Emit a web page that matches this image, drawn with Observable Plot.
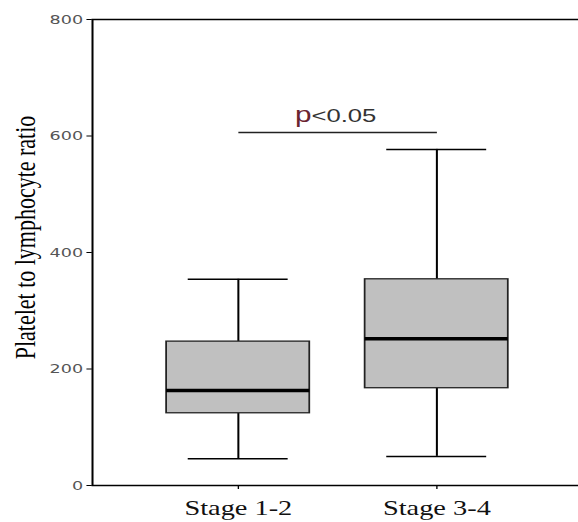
<!DOCTYPE html>
<html>
<head>
<meta charset="utf-8">
<script src="https://cdn.jsdelivr.net/npm/d3@7"></script>
<script src="https://cdn.jsdelivr.net/npm/@observablehq/plot@0.6"></script>
<style>
  html, body { margin: 0; padding: 0; background: white; overflow: hidden; }
  #chart { transform: scaleX(1.3505); transform-origin: 0 0; width: 428px; }
</style>
</head>
<body>
<div id="chart"></div>
<script>
// Data
const categories = ["Stage 1-2", "Stage 3-4"];
const lowWhisker = [46, 50];
const q1 = [124, 167];
const median = [163, 252];
const q3 = [247, 354];
const highWhisker = [354, 577];
const yTicks = [0, 200, 400, 600, 800];
const yTitle = "Platelet to lymphocyte ratio";
const pText = "p<0.05";
const pLevel = [606];

const rows = categories.map((c, i) => ({
  stage: c, low: lowWhisker[i], q1: q1[i], med: median[i], q3: q3[i], high: highWhisker[i]
}));

const svg = Plot.plot({
  width: 428,
  height: 522,
  marginLeft: 68,
  marginRight: 0,
  marginTop: 19,
  marginBottom: 37,
  style: {background: "white", overflow: "hidden"},
  x: {type: "band", domain: categories, range: [122, 377], paddingInner: 0.276, paddingOuter: 0,
      tickSize: 4, tickPadding: 11, label: null},
  y: {domain: [0, 800], ticks: yTicks, tickSize: 4, tickPadding: 3, label: null},
  marks: [
    Plot.frame({stroke: "black", strokeWidth: 1.5, insetRight: -6}),
    // whiskers
    Plot.ruleX(rows, {x: "stage", y1: "q3", y2: "high", stroke: "black", strokeWidth: 1.5}),
    Plot.ruleX(rows, {x: "stage", y1: "low", y2: "q1", stroke: "black", strokeWidth: 1.5}),
    // caps
    Plot.tickY(rows, {x: "stage", y: "high", stroke: "black", strokeWidth: 1.5, insetLeft: 16, insetRight: 16}),
    Plot.tickY(rows, {x: "stage", y: "low", stroke: "black", strokeWidth: 1.5, insetLeft: 16, insetRight: 16}),
    // boxes
    Plot.barY(rows, {x: "stage", y1: "q1", y2: "q3", fill: "#c0c0c0", stroke: "#222", strokeWidth: 1.3}),
    // medians
    Plot.tickY(rows, {x: "stage", y: "med", stroke: "black", strokeWidth: 3.5}),
    // significance bar
    Plot.link(pLevel, {x1: () => categories[0], x2: () => categories[1], y1: d => d, y2: d => d, stroke: "#222", strokeWidth: 1.5}),
    Plot.text([pText], {frameAnchor: "middle", y: () => 634, text: d => d, fontSize: 19, fontFamily: "Liberation Sans", fill: "#333", lineAnchor: "middle"}),
    Plot.text([yTitle], {frameAnchor: "left", text: d => d, rotate: -90, dx: -50, dy: -15, fontSize: 22, fontFamily: "Liberation Serif", fill: "black", textAnchor: "middle", lineAnchor: "middle"})
  ]
});

document.getElementById("chart").appendChild(svg);

const root = d3.select(svg);
const yLabels = yTicks.map(String);
// Style the axis ticks and labels like the reference
root.selectAll("text").each(function () {
  const txt = this.textContent;
  const t = d3.select(this);
  const tickLine = d3.select(this.parentNode).select("line");
  if (categories.includes(txt)) {
    t.attr("fill", "#111").style("font-size", "21px").style("font-family", "Liberation Serif")
      .style("font-weight", "normal");
    tickLine.attr("stroke", "black").attr("stroke-width", 2);
  } else if (yLabels.includes(txt)) {
    t.attr("fill", "#555").style("font-size", "13px").style("font-family", "DejaVu Sans")
      .style("font-weight", "normal");
    tickLine.attr("stroke", "black").attr("stroke-width", 2.5);
  }
});

// Colour the "p" like the reference
root.selectAll("text").filter(function () { return this.textContent === pText; })
  .each(function () {
    const t = d3.select(this);
    t.text(null);
    t.append("tspan").attr("fill", "#6a2430").attr("font-size", 22).text("p");
    t.append("tspan").text("<0.05");
  });
</script>
</body>
</html>
